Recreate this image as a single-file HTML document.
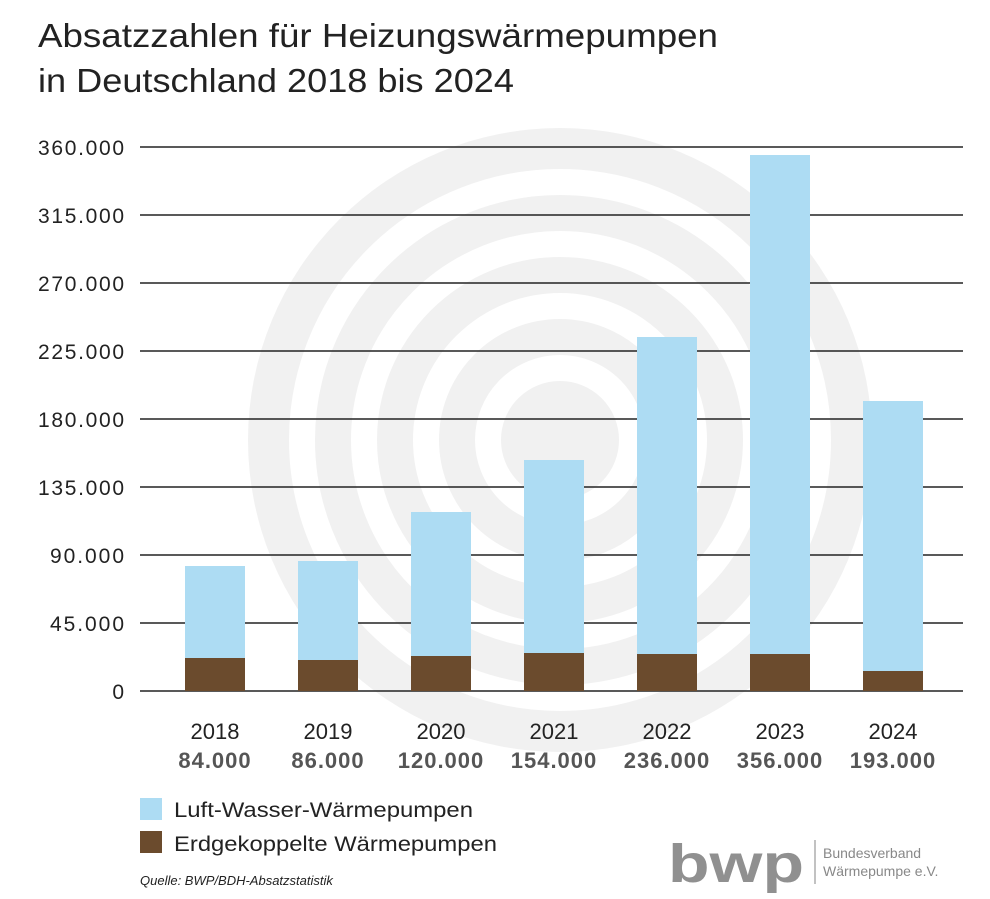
<!DOCTYPE html>
<html><head><meta charset="utf-8"><style>
body{margin:0;background:#fff}
svg text{font-family:"Liberation Sans","DejaVu Sans",sans-serif}
</style></head><body>
<svg width="990" height="894" viewBox="0 0 990 894" xmlns="http://www.w3.org/2000/svg">
<rect width="990" height="894" fill="#fff"/>
<g>
<circle cx="560" cy="440" r="312" fill="#f1f1f1"/>
<circle cx="560" cy="440" r="258" fill="none" stroke="#fff" stroke-width="26"/>
<circle cx="560" cy="440" r="196" fill="none" stroke="#fff" stroke-width="26"/>
<circle cx="560" cy="440" r="134" fill="none" stroke="#fff" stroke-width="26"/>
<circle cx="560" cy="440" r="72" fill="none" stroke="#fff" stroke-width="26"/>
</g>
<text x="38" y="47" font-size="33" fill="#222" textLength="680" lengthAdjust="spacingAndGlyphs">Absatzzahlen für Heizungswärmepumpen</text>
<text x="38" y="92" font-size="33" fill="#222" textLength="476" lengthAdjust="spacingAndGlyphs">in Deutschland 2018 bis 2024</text>
<g stroke="#222" stroke-width="1.5">
<line x1="140" y1="147" x2="963" y2="147"/><line x1="140" y1="215" x2="963" y2="215"/>
<line x1="140" y1="283" x2="963" y2="283"/><line x1="140" y1="351" x2="963" y2="351"/>
<line x1="140" y1="419" x2="963" y2="419"/><line x1="140" y1="487" x2="963" y2="487"/>
<line x1="140" y1="555" x2="963" y2="555"/><line x1="140" y1="623" x2="963" y2="623"/>
<line x1="140" y1="691" x2="963" y2="691"/>
</g>
<g font-size="21" fill="#222" text-anchor="end" lengthAdjust="spacingAndGlyphs">
<text x="124" y="155" textLength="86">360.000</text><text x="124" y="223" textLength="86">315.000</text>
<text x="124" y="291" textLength="86">270.000</text><text x="124" y="359" textLength="86">225.000</text>
<text x="124" y="427" textLength="86">180.000</text><text x="124" y="495" textLength="86">135.000</text>
<text x="124" y="563" textLength="74">90.000</text><text x="124" y="631" textLength="74">45.000</text>
<text x="124" y="699">0</text>
</g>
<g fill="#addcf3">
<rect x="185" y="566" width="60" height="125"/>
<rect x="298" y="561" width="60" height="130"/>
<rect x="411" y="512" width="60" height="179"/>
<rect x="524" y="460" width="60" height="231"/>
<rect x="637" y="337" width="60" height="354"/>
<rect x="750" y="155" width="60" height="536"/>
<rect x="863" y="401" width="60" height="290"/>
</g>
<g fill="#6b4b2d">
<rect x="185" y="658" width="60" height="33"/>
<rect x="298" y="660" width="60" height="31"/>
<rect x="411" y="656" width="60" height="35"/>
<rect x="524" y="653" width="60" height="38"/>
<rect x="637" y="654" width="60" height="37"/>
<rect x="750" y="654" width="60" height="37"/>
<rect x="863" y="671" width="60" height="20"/>
</g>
<g font-size="22" fill="#222" text-anchor="middle">
<text x="215" y="739">2018</text><text x="328" y="739">2019</text><text x="441" y="739">2020</text>
<text x="554" y="739">2021</text><text x="667" y="739">2022</text><text x="780" y="739">2023</text><text x="893" y="739">2024</text>
</g>
<g font-size="22" fill="#555" font-weight="bold" text-anchor="middle" letter-spacing="1">
<text x="215" y="768">84.000</text><text x="328" y="768">86.000</text><text x="441" y="768">120.000</text>
<text x="554" y="768">154.000</text><text x="667" y="768">236.000</text><text x="780" y="768">356.000</text><text x="893" y="768">193.000</text>
</g>
<rect x="140" y="798" width="22" height="22" fill="#addcf3"/>
<text x="174" y="817" font-size="21" fill="#222" textLength="299" lengthAdjust="spacingAndGlyphs">Luft-Wasser-Wärmepumpen</text>
<rect x="140" y="831" width="22" height="22" fill="#6b4b2d"/>
<text x="174" y="851" font-size="21" fill="#222" textLength="323" lengthAdjust="spacingAndGlyphs">Erdgekoppelte Wärmepumpen</text>
<text x="140" y="885" font-size="13" font-style="italic" fill="#222">Quelle: BWP/BDH-Absatzstatistik</text>
<text x="668" y="882" font-size="54" font-weight="bold" fill="#909090" textLength="136" lengthAdjust="spacingAndGlyphs">bwp</text>
<line x1="815" y1="840" x2="815" y2="884" stroke="#999" stroke-width="1.2"/>
<text x="823" y="858" font-size="14" fill="#888">Bundesverband</text>
<text x="823" y="876" font-size="14" fill="#888">Wärmepumpe e.V.</text>
</svg>
</body></html>
